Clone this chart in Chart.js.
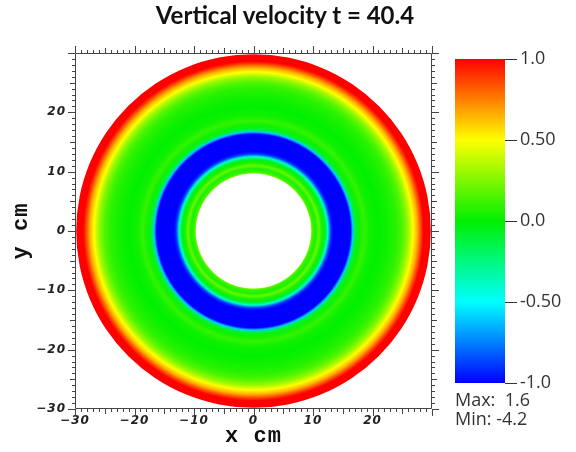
<!DOCTYPE html>
<html lang="en">
  <head>
    <meta charset="UTF-8" />
    <title>Vertical velocity</title>
    <style>
      body {
        margin: 0;
        background: #fff;
      }

      .plot {
        position: relative;
        width: 576px;
        height: 452px;
        color: #333;
      }

      .title {
        position: absolute;
        left: 0;
        top: 0;
        width: 570px;
        text-align: center;
        font: bold 24px Lato, sans-serif;
        color: #111;
      }

      .field {
        position: absolute;
        left: 0;
        top: 0;
        width: 576px;
        height: 452px;
      }

      .legend {
        position: absolute;
        left: 440px;
        top: 0;
        width: 136px;
        height: 452px;
      }

      .range {
        position: absolute;
        left: 455px;
        top: 390px;
        font: 18px "Open Sans", sans-serif;
        line-height: 19px;
        white-space: pre;
      }
    </style>
  </head>
  <body>
    <div class="plot">
      <div class="field"><canvas id="field"></canvas></div>
      <div class="legend"><canvas id="legend"></canvas></div>
      <div class="title">Vertical velocity t = 40.4</div>
      <div class="range">Max:  1.6
Min: -4.2</div>
    </div>

    <script src="https://cdn.jsdelivr.net/npm/chart.js"></script>

    <script>
      // radial profile of the vertical velocity (radius in cm), clipped to [-1, 1]
      const radius = [
        9.7, 10.0, 10.5, 11.0, 11.5, 12.0, 12.5, 13.0, 13.4, 16.3, 16.7, 17.1,
        17.8, 18.6, 19.5, 21.0, 22.5, 24.0, 25.0, 26.0, 26.8, 27.5, 28.1, 28.6,
        29.8,
      ];
      const velocity = [
        0.25, 0.1, 0.05, 0.2, 0.05, -0.05, -0.4, -0.9, -1.0, -1.0, -0.6, -0.1,
        0.03, 0.1, 0.03, 0.0, 0.03, 0.08, 0.15, 0.3, 0.5, 0.65, 0.85, 1.0, 1.0,
      ];

      // colour table
      const cmapValues = [-1, -0.5, 0, 0.5, 1];
      const cmapColors = [
        [0, 0, 255],
        [0, 255, 255],
        [0, 240, 0],
        [255, 255, 0],
        [255, 0, 0],
      ];

      const axisTicks = [-30, -20, -10, 0, 10, 20];
      const barTicks = [-1, -0.5, 0, 0.5, 1];
      const barTickLabels = ["-1.0", "-0.50", "0.0", "0.50", "1.0"];

      function colorFor(v) {
        v = Math.max(-1, Math.min(1, v));
        let i = 0;
        while (i < cmapValues.length - 2 && v > cmapValues[i + 1]) i++;
        const t = (v - cmapValues[i]) / (cmapValues[i + 1] - cmapValues[i]);
        const a = cmapColors[i];
        const b = cmapColors[i + 1];
        const rgb = a.map((c, k) => Math.round(c + (b[k] - c) * t));
        return `rgb(${rgb.join(",")})`;
      }

      const tickFont = {
        family: "'DejaVu Sans', sans-serif",
        size: 12,
        style: "italic",
        weight: "bold",
      };
      const titleFont = {
        family: "'Liberation Mono', monospace",
        size: 22,
        weight: "bold",
      };

      function axisLabel(v) {
        if (!axisTicks.includes(v)) return "";
        return String(v).replace("-", "\u2212");
      }

      // filled ring, coloured by radius
      const annulus = {
        id: "annulus",
        beforeDatasetsDraw(chart) {
          const { ctx } = chart;
          const { x, y } = chart.scales;
          const rIn = radius[0];
          const rOut = radius[radius.length - 1];
          const cx = x.getPixelForValue(0);
          const cy = y.getPixelForValue(0);
          const sx = x.getPixelForValue(rOut) - cx;
          const sy = cy - y.getPixelForValue(rOut);

          ctx.save();
          ctx.translate(cx, cy);
          ctx.scale(1, sy / sx);
          const grad = ctx.createRadialGradient(0, 0, 0, 0, 0, sx);
          radius.forEach((r, i) => {
            grad.addColorStop(r / rOut, colorFor(velocity[i]));
          });
          ctx.beginPath();
          ctx.arc(0, 0, sx, 0, Math.PI * 2);
          ctx.arc(0, 0, (sx * rIn) / rOut, 0, Math.PI * 2, true);
          ctx.fillStyle = grad;
          ctx.fill();
          ctx.restore();
        },
      };

      // box around the plot with tick marks on every side
      const frame = {
        id: "frame",
        beforeUpdate(chart) {
          chart.ctx.letterSpacing = "1px";
        },
        beforeDraw(chart) {
          chart.ctx.letterSpacing = "1px";
        },
        afterDraw(chart) {
          const { ctx, chartArea: a } = chart;
          const { x, y } = chart.scales;
          ctx.save();
          ctx.strokeStyle = "#444";
          ctx.lineWidth = 1;
          ctx.beginPath();
          ctx.rect(a.left + 0.5, a.top + 0.5, a.width - 1, a.height - 1);
          for (let v = x.min; v <= x.max; v++) {
            const len = v % 10 === 0 ? 7 : v % 5 === 0 ? 5 : 3;
            const px = Math.round(x.getPixelForValue(v)) + 0.5;
            ctx.moveTo(px, a.bottom);
            ctx.lineTo(px, a.bottom + len);
            ctx.moveTo(px, a.top);
            ctx.lineTo(px, a.top - len);
          }
          for (let v = y.min; v <= y.max; v++) {
            const len = v % 10 === 0 ? 7 : v % 5 === 0 ? 5 : 3;
            const py = Math.round(y.getPixelForValue(v)) + 0.5;
            ctx.moveTo(a.left, py);
            ctx.lineTo(a.left - len, py);
            ctx.moveTo(a.right, py);
            ctx.lineTo(a.right + len, py);
          }
          ctx.stroke();
          ctx.restore();
        },
      };

      new Chart(document.getElementById("field"), {
        type: "scatter",
        data: { datasets: [] },
        plugins: [annulus, frame],
        options: {
          responsive: true,
          maintainAspectRatio: false,
          animation: false,
          layout: { padding: { top: 53, right: 144, left: 0, bottom: 0 } },
          plugins: {
            legend: { display: false },
            tooltip: { enabled: false },
          },
          scales: {
            x: {
              type: "linear",
              position: "bottom",
              min: -30,
              max: 30,
              ticks: {
                stepSize: 10,
                autoSkip: false,
                maxRotation: 0,
                padding: 5,
                color: "#222",
                font: tickFont,
                callback: axisLabel,
              },
              grid: { display: false, tickLength: 0 },
              border: { display: false },
              title: {
                display: true,
                text: "x cm",
                color: "#111",
                font: titleFont,
                padding: { top: 0, bottom: 2 },
              },
              afterFit(scale) {
                scale.height = 43;
              },
            },
            y: {
              type: "linear",
              position: "left",
              min: -30,
              max: 30,
              ticks: {
                stepSize: 10,
                autoSkip: false,
                padding: 9,
                color: "#222",
                font: tickFont,
                callback: axisLabel,
              },
              grid: { display: false, tickLength: 0 },
              border: { display: false },
              title: {
                display: true,
                text: "y cm",
                color: "#111",
                font: titleFont,
                padding: { top: 8, bottom: 0 },
              },
              afterFit(scale) {
                scale.width = 75;
              },
            },
          },
        },
      });

      function barGradient(context) {
        const { chart } = context;
        if (!chart.chartArea) return null;
        const y = chart.scales.y;
        const grad = chart.ctx.createLinearGradient(
          0,
          y.getPixelForValue(-1),
          0,
          y.getPixelForValue(1)
        );
        cmapValues.forEach((v) => grad.addColorStop((v + 1) / 2, colorFor(v)));
        return grad;
      }

      new Chart(document.getElementById("legend"), {
        type: "bar",
        data: {
          labels: ["w"],
          datasets: [
            {
              data: [[-1, 1]],
              backgroundColor: barGradient,
              borderWidth: 0,
              barPercentage: 1,
              categoryPercentage: 1,
            },
          ],
        },
        options: {
          responsive: true,
          maintainAspectRatio: false,
          animation: false,
          layout: { padding: { left: 15, top: 59, bottom: 69, right: 0 } },
          plugins: {
            legend: { display: false },
            tooltip: { enabled: false },
          },
          scales: {
            x: { display: false },
            y: {
              position: "right",
              min: -1,
              max: 1,
              ticks: {
                stepSize: 0.5,
                padding: 3,
                color: "#333",
                font: { family: "'Open Sans', sans-serif", size: 18 },
                callback: (v) => barTickLabels[barTicks.indexOf(v)],
              },
              grid: { drawOnChartArea: false, tickLength: 12, color: "#333" },
              border: { display: false },
              afterFit(scale) {
                scale.width = 71;
              },
            },
          },
        },
      });
    </script>
  </body>
</html>
